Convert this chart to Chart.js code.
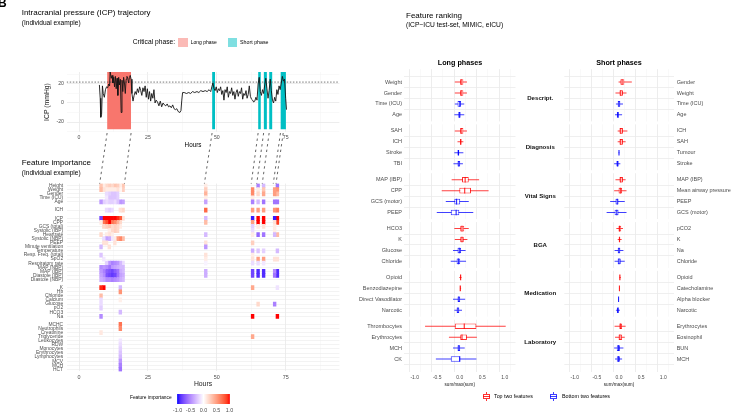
<!DOCTYPE html>
<html><head><meta charset="utf-8">
<script src="https://cdn.jsdelivr.net/npm/chart.js@4.4.1/dist/chart.umd.min.js"></script>
<style>
html,body{margin:0;padding:0;background:#fff;}
body{width:737px;height:419px;position:relative;overflow:hidden;font-family:"Liberation Sans",Arial,Helvetica,sans-serif;}
canvas{position:absolute;}
.t{position:absolute;white-space:nowrap;line-height:1;color:#000;}
.sw{position:absolute;}
</style></head><body>
<canvas id="cA" width="345" height="92" style="left:0;top:60px"></canvas>
<canvas id="cB" width="345" height="215" style="left:0;top:175px"></canvas>
<canvas id="cC" width="100" height="31" style="left:150px;top:388px"></canvas>
<canvas id="cD" width="225" height="355" style="left:340px;top:40px"></canvas>
<canvas id="cE" width="182" height="355" style="left:555px;top:40px"></canvas>
<canvas id="cO" width="737" height="419" style="left:0;top:0;pointer-events:none"></canvas>
<script>
// ---------------- DATA ----------------
const icpHours  = [7.4,7.7,7.9,8.2,8.5,8.8,9.2,9.6,10.0,10.4,10.8,11.1,11.3,11.7,12.0,12.3,12.6,12.9,13.2,13.5,13.8,14.1,14.4,14.7,15.0,15.3,15.6,15.9,16.2,16.5,16.8,17.1,17.4,17.7,18.0,18.3,18.6,18.9,19.2,19.6,20.0,20.4,20.8,21.2,21.6,22.0,22.4,22.8,23.2,23.6,24.0,24.4,24.8,25.2,25.6,26.0,26.4,26.8,27.2,27.6,28.0,28.5,29.0,29.5,30.0,30.5,31.0,31.5,32.0,32.5,33.0,33.5,34.0,34.5,35.0,35.5,36.0,36.6,37.0,37.3,37.6,38.2,39.0,39.8,40.5,41.2,42.0,42.8,43.5,44.2,45.0,45.8,46.5,47.2,47.8,48.2,48.6,49.0,49.4,49.8,50.2,50.6,51.0,51.4,51.8,52.2,52.6,53.0,53.4,53.8,54.2,54.6,55.0,55.4,55.8,56.2,56.6,57.0,57.4,57.8,58.2,58.6,59.0,59.4,59.8,60.2,60.6,61.0,61.4,61.8,62.2,62.6,63.0,63.4,63.8,64.2,64.6,65.0,65.4,65.8,66.2,66.6,67.0,67.4,67.8,68.2,68.6,69.0,69.4,69.8,70.2,70.6,71.0,71.4,71.8,72.2,72.6,73.0,73.4,73.8,74.2,74.6,75.0,75.3];
const icpValues = [19,5,-15,-12,18,10,6,14,17,16,20,18,33,26,29,21,27,17,28,15,26,8,27,19,25,-10,24,12,27,21,10,25,28,26,21,27,29,25,10,2,8,12,9,15,11,17,13,8,16,12,18,6,15,4,12,2,10,5,14,0,3,1,-3,2,-4,0,-2,-3,-1,-4,-3,-5,-2,-6,-7,-6,-9,-10,-8,3,11,11,10,11,10,12,11,12,11,13,12,13,12,14,12,17,21,15,13,17,11,15,13,17,9,13,3,14,11,17,6,12,10,16,8,12,4,11,14,7,12,10,16,4,10,8,13,5,9,18,7,4,3,1,2,6,3,20,27,12,8,14,10,19,26,15,5,13,25,13,3,0,6,2,14,9,18,14,21,28,23,25,5,-7];
const icpThreshold = 22;
const phaseStart = [10.2, 48.3, 65.0, 67.0, 69.0, 73.1];
const phaseEnd   = [18.9, 49.4, 66.0, 68.2, 70.2, 75.1];
const phaseKind  = ['long','short','short','short','short','short'];
const phaseColFrom = [8, 46, 63, 65, 67, 71];
const phaseColTo   = [16, 46, 63, 65, 67, 72];

const heatDescript  = ['Height','Weight','Gender','Time (ICU)','Age'];
const heatDiagnosis = ['ICH'];
const heatVitals    = ['ICP','CPP','GCS (total)','Systolic (IBP)','Heartrate','Systolic (NBP)','PEEP','Minute ventilation','Temperature','Resp. Freq. (total)','SpO2','Respiratory rate','MAP (NBP)','MAP (IBP)','Diastole (IBP)','Diastole (NBP)'];
const heatBGA       = ['K','Hb','Chloride','Calcium','Glucose','pO2','HCO3','Na'];
const heatLab       = ['MCHC','Neutrophils','Creatinine','Triglyceride','Leukocytes','RDW','Monocytes','Erythrocytes','Lymphocytes','MCV','MCH','HCT'];
const heatCols = [8,9,10,11,12,13,14,15,16,46,63,65,67,71,72];
const _ = null;
const imp_h08 = [0.30,0.35,_,_,-0.45, _, -0.80,0.10,_,_,0.20,_,_,-0.30,_,-0.25,_,_,-0.50,-0.45,-0.40,-0.35, 0.95,_,0.35,-0.15,-0.15,-0.20,_,-0.50, _,_,0.12,_,_,_,_,_,_,_,_,_];
const imp_h09 = [0.10,0.15,_,_,-0.20, _, 1.00,0.70,0.20,_,_,-0.15,0.15,_,_,_,-0.10,_,-0.45,-0.55,-0.50,-0.40, 1.00,_,_,_,_,_,_,_, _,_,_,_,_,_,_,_,_,_,_,_];
const imp_h10 = [0.20,0.10,-0.15,-0.10,-0.15, -0.15, 1.00,0.85,0.25,_,0.10,-0.40,0.15,_,_,_,_,-0.20,-0.50,-0.70,-0.75,-0.50, _,_,_,_,_,_,_,_, _,_,_,_,_,_,_,_,_,_,_,_];
const imp_h11 = [0.25,0.10,-0.20,-0.25,-0.20, -0.20, 1.00,1.00,0.30,0.10,0.15,-0.35,_,0.15,_,_,_,-0.45,-0.60,-0.75,-0.80,-0.50, _,_,_,_,_,_,_,_, _,_,_,_,_,_,_,_,_,_,_,_];
const imp_h12 = [0.20,0.10,-0.25,-0.25,-0.20, -0.15, 1.00,0.70,0.20,0.20,0.10,-0.10,_,_,_,_,_,-0.55,-0.45,-0.80,-0.85,-0.55, _,_,_,_,_,_,_,_, _,_,_,_,_,_,_,_,_,_,_,_];
const imp_h13 = [0.30,0.10,-0.25,-0.25,-0.15, _, 1.00,0.60,0.25,0.25,_,0.10,0.15,_,_,_,_,-0.50,-0.40,-0.70,-0.80,-0.50, _,_,_,_,_,_,_,_, _,_,_,_,_,_,_,_,_,_,_,_];
const imp_h14 = [0.25,0.15,-0.20,-0.20,-0.25, _, 0.95,0.40,0.20,0.20,_,0.50,_,_,_,_,_,-0.45,-0.35,-0.60,-0.60,-0.45, _,_,_,_,_,_,_,_, _,_,_,_,_,_,_,_,_,_,_,_];
const imp_h15 = [0.10,0.05,_,_,-0.45, 0.15, 0.80,0.20,0.10,_,_,0.60,_,_,_,_,_,-0.30,-0.30,-0.35,-0.40,-0.35, -0.30,0.55,_,0.08,_,_,-0.30,_, 0.70,0.60,_,_,-0.10,-0.15,-0.20,-0.25,-0.30,-0.45,-0.55,-0.60];
const imp_h16 = [0.30,0.25,_,_,-0.40, 0.20, 0.15,_,_,_,_,0.35,_,_,_,_,_,-0.15,-0.30,-0.30,-0.35,-0.30, _,_,_,_,_,_,_,_, _,_,_,_,_,_,_,_,_,_,_,_];
const imp_h46 = [0.10,0.25,0.40,0.10,-0.40, 0.75, -0.30,0.35,_,_,-0.30,_,0.15,-0.45,_,0.15,0.10,-0.05,_,-0.35,-0.35,_, _,_,_,_,_,_,_,_, _,_,_,_,_,_,_,_,_,_,_,_];
const imp_h63 = [_,0.60,0.60,0.10,-0.55, 0.50, -0.95,0.50,-0.20,-0.15,0.10,_,0.25,_,-0.35,0.10,0.15,-0.15,_,-0.80,-0.80,_, 0.45,_,_,_,_,_,_,1.00, _,_,_,0.45,_,_,_,_,_,_,_,_];
const imp_h65 = [-0.55,0.10,0.20,_,-0.30, 0.50, 1.00,1.00,0.10,_,-0.65,_,_,_,-0.25,_,0.50,-0.15,_,-0.90,-0.90,_, _,_,_,_,0.20,_,_,_, _,_,_,_,_,_,_,_,_,_,_,_];
const imp_h67 = [-0.30,0.30,0.45,_,-0.60, 0.50, 1.00,1.00,0.15,_,-0.60,_,_,_,-0.20,_,0.50,-0.10,_,-0.90,-0.90,_, _,_,_,_,_,_,_,_, _,_,_,_,_,_,_,_,_,_,_,_];
const imp_h71 = [_,0.50,0.50,_,-0.60, 0.55, -0.95,0.15,0.10,0.10,-0.30,_,_,_,_,_,0.15,_,_,-0.50,-0.60,_, _,_,_,_,-0.55,_,_,_, _,_,_,_,_,_,_,_,_,_,_,_];
const imp_h72 = [-0.60,0.55,0.35,_,-0.60, 0.65, 1.00,0.90,_,_,0.35,_,_,_,-0.30,_,0.15,_,_,-0.90,-0.90,_, -0.12,_,_,_,_,_,_,1.00, _,_,_,_,_,_,_,_,_,_,_,_];
const heatMatrix = [imp_h08,imp_h09,imp_h10,imp_h11,imp_h12,imp_h13,imp_h14,imp_h15,imp_h16,imp_h46,imp_h63,imp_h65,imp_h67,imp_h71,imp_h72];
const colorbarRange = [-1, 1];
const colorbarTicks = [-1, -0.5, 0, 0.5, 1];

const groupNames = ['Descript.','Diagnosis','Vital Signs','BGA','Medication','Laboratory'];
const longFeatures = ['Weight','Gender','Time (ICU)','Age','SAH','ICH','Stroke','TBI','MAP (IBP)','CPP','GCS (motor)','PEEP','HCO3','K','Glucose','Chloride','Opioid','Benzodiazepine','Direct Vasodilator','Narcotic','Thrombocytes','Erythrocytes','MCH','CK'];
const longMin = [-0.11,-0.11,-0.11,-0.12,-0.11,-0.05,-0.12,-0.14,-0.18,-0.40,-0.31,-0.51,-0.12,-0.11,-0.15,-0.20,-0.01,0.00,-0.15,-0.12,-0.77,-0.24,-0.15,-0.53];
const longQ1  = [0.00,0.00,-0.05,-0.03,0.00,0.00,-0.05,-0.05,0.05,-0.01,-0.12,-0.20,0.00,0.00,-0.05,-0.07,0.00,0.00,-0.05,-0.07,-0.11,0.00,-0.05,-0.20];
const longMed = [0.03,0.03,0.00,-0.01,0.03,0.02,-0.03,-0.02,0.12,0.11,-0.07,-0.08,0.05,0.05,-0.01,-0.03,0.02,0.01,-0.02,-0.04,0.10,0.05,-0.02,0.00];
const longQ3  = [0.08,0.08,0.03,0.02,0.08,0.04,0.00,0.01,0.20,0.25,0.01,0.00,0.10,0.09,0.03,0.01,0.03,0.03,0.01,0.00,0.37,0.16,0.01,0.01];
const longMax = [0.16,0.16,0.10,0.10,0.16,0.08,0.08,0.07,0.43,0.64,0.20,0.30,0.20,0.17,0.13,0.14,0.04,0.03,0.12,0.05,1.02,0.38,0.11,0.37];
const shortFeatures = ['Gender','Weight','Time (ICU)','Age','ICH','SAH','Tumour','Stroke','MAP (IBP)','Mean airway pressure','PEEP','GCS (motor)','pCO2','K','Na','Chloride','Opioid','Catecholamine','Alpha blocker','Narcotic','Erythrocytes','Eosinophil','BUN','MCH'];
const shortMin = [-0.01,-0.08,-0.07,-0.09,-0.03,-0.03,-0.01,-0.11,-0.08,-0.11,-0.20,-0.28,-0.06,-0.03,-0.10,-0.10,0.00,0.00,-0.02,-0.07,-0.10,-0.09,-0.11,-0.09];
const shortQ1  = [0.03,0.00,-0.03,-0.05,0.00,0.00,-0.005,-0.06,0.00,-0.01,-0.08,-0.10,-0.01,0.00,-0.03,-0.03,0.00,0.00,-0.015,-0.05,0.00,-0.01,-0.05,-0.05];
const shortMed = [0.07,0.04,0.00,-0.02,0.04,0.04,0.00,-0.03,0.04,0.03,-0.04,-0.05,0.01,0.01,0.00,0.00,0.02,0.01,-0.01,-0.02,0.03,0.02,-0.01,-0.01];
const shortQ3  = [0.12,0.09,0.03,0.00,0.09,0.09,0.005,0.00,0.09,0.07,0.00,0.00,0.05,0.03,0.03,0.04,0.03,0.015,0.00,0.00,0.07,0.07,0.02,0.02];
const shortMax = [0.29,0.17,0.09,0.07,0.19,0.15,0.01,0.03,0.15,0.17,0.13,0.17,0.09,0.06,0.10,0.13,0.04,0.02,0.00,0.02,0.15,0.13,0.10,0.07];

// ---------------- HELPERS ----------------
const FONT = '"Liberation Sans", Arial, Helvetica, sans-serif';
Chart.defaults.font.family = FONT;
const AXT = '#4D4D4D';
const GRID = '#EBEBEB', GRID_MINOR = '#F2F2F2';

function toLin(c){c/=255;return c<=0.04045?c/12.92:Math.pow((c+0.055)/1.055,2.4);}
function toS(c){c=Math.max(0,Math.min(1,c));return Math.round(255*(c<=0.0031308?12.92*c:1.055*Math.pow(c,1/2.4)-0.055));}
function rgb2lab(r,g,b){
  const R=toLin(r),G=toLin(g),B=toLin(b);
  const X=(0.4124*R+0.3576*G+0.1805*B)/0.95047, Y=(0.2126*R+0.7152*G+0.0722*B), Z=(0.0193*R+0.1192*G+0.9505*B)/1.08883;
  const f=t=>t>0.008856?Math.cbrt(t):7.787*t+16/116;
  const fx=f(X),fy=f(Y),fz=f(Z);
  return [116*fy-16,500*(fx-fy),200*(fy-fz)];
}
function lab2rgb(L,a,b){
  const fy=(L+16)/116,fx=fy+a/500,fz=fy-b/200;
  const fi=t=>{const t3=t*t*t;return t3>0.008856?t3:(t-16/116)/7.787;};
  const X=fi(fx)*0.95047,Y=fi(fy),Z=fi(fz)*1.08883;
  const R=3.2406*X-1.5372*Y-0.4986*Z,G=-0.9689*X+1.8758*Y+0.0415*Z,B=0.0557*X-0.2040*Y+1.0570*Z;
  return 'rgb('+toS(R)+','+toS(G)+','+toS(B)+')';
}
const LAB_LOW=rgb2lab(0,0,255), LAB_MID=rgb2lab(255,255,255), LAB_HIGH=rgb2lab(255,0,0);
function divColor(v){
  v=Math.max(-1,Math.min(1,v));
  const end=v<0?LAB_LOW:LAB_HIGH, t=Math.abs(v);
  return lab2rgb(LAB_MID[0]+(end[0]-LAB_MID[0])*t, LAB_MID[1]+(end[1]-LAB_MID[1])*t, LAB_MID[2]+(end[2]-LAB_MID[2])*t);
}
function addText(t,o){
  const d=document.createElement('div');d.className='t';d.textContent=t;
  d.style.fontSize=o.s+'px'; if(o.b) d.style.fontWeight='bold';
  d.style.top=(o.cy-0.54*o.s)+'px';
  if(o.cx!==undefined){d.style.left=o.cx+'px';d.style.transform='translateX(-50%)';} else d.style.left=o.x+'px';
  document.body.appendChild(d);
}
function addBox(x,y,w,h,css){const d=document.createElement('div');d.className='sw';d.style.left=x+'px';d.style.top=y+'px';d.style.width=w+'px';d.style.height=h+'px';Object.assign(d.style,css);document.body.appendChild(d);return d;}
const baseOpts = {responsive:false, animation:false, events:[], plugins:{legend:{display:false}, tooltip:{enabled:false}}};
const hourGrid = {color:c=>(c.tick && c.tick.value%25===0)?GRID:GRID_MINOR, lineWidth:c=>(c.tick && c.tick.value%25===0)?0.9:0.5, drawTicks:false};

// ---------------- A: ICP trajectory ----------------
const phaseTop = 33, phaseBottom = -27.5;
const chartA = new Chart(document.getElementById('cA'), {
  type:'line',
  data:{datasets:[
    {data: icpHours.map((h,i)=>({x:h,y:icpValues[i]})), borderColor:'#141414', borderWidth:0.9, pointRadius:0, tension:0, fill:false},
    {data:[{x:-4.5,y:icpThreshold},{x:94.5,y:icpThreshold}], borderColor:'#555', borderWidth:0.8, borderDash:[1.5,1.6], pointRadius:0, fill:false},
    ...phaseStart.map((s,i)=>({data:[{x:s,y:phaseTop},{x:phaseEnd[i],y:phaseTop}], borderColor:'rgba(0,0,0,0)', borderWidth:0, pointRadius:0,
        fill:{value:phaseBottom}, backgroundColor: phaseKind[i]==='long'?'#F8766D':'#00BFC4'}))
  ]},
  options:{...baseOpts,
    layout:{padding:{top:12,right:5.6,left:0,bottom:0}},
    scales:{
      x:{type:'linear',min:-4.5,max:94.5,border:{display:false},grid:hourGrid,
         ticks:{stepSize:12.5,includeBounds:false,callback:v=>v%25===0?v:'',font:{size:5.2},color:AXT,padding:2,maxRotation:0},
         afterFit:s=>{s.height=20;}},
      y:{type:'linear',min:-30.5,max:32.6,border:{display:false},
         grid:{color:c=>(c.tick && c.tick.value%20===0)?GRID:GRID_MINOR,lineWidth:c=>(c.tick && c.tick.value%20===0)?0.9:0.5,drawTicks:false},
         ticks:{stepSize:10,includeBounds:false,callback:v=>v%20===0?v:'',font:{size:5.2},color:AXT,padding:2.6},
         title:{display:true,text:'ICP (mmHg)',font:{size:6.8},color:'#1a1a1a',padding:{top:42.6,bottom:0}},
         afterFit:s=>{s.width=66.6;}}
    }}
});

// ---------------- B: heatmap ----------------
const heatGroups=[heatDescript,heatDiagnosis,heatVitals,heatBGA,heatLab];
const heatLabels=[];
heatGroups.forEach((g,gi)=>{ if(gi>0){heatLabels.push('');} g.forEach(n=>heatLabels.push(n)); });
function withSpacers(arr){const out=[];let k=0;heatGroups.forEach((g,gi)=>{if(gi>0)out.push(null);g.forEach(()=>{out.push(arr[k++]);});});return out;}
const chartB = new Chart(document.getElementById('cB'), {
  type:'bar',
  data:{labels:heatLabels, datasets: heatCols.map((c,k)=>{const vals=withSpacers(heatMatrix[k]);return {
    data: vals.map(v=>v===null?null:[c-0.5,c+0.5]),
    backgroundColor: vals.map(v=>v===null?'rgba(0,0,0,0)':divColor(v)),
    borderWidth:0, grouped:false, barPercentage:1, categoryPercentage:1};})},
  options:{...baseOpts, indexAxis:'y',
    layout:{padding:{top:8.6,right:5.6,left:0,bottom:0}},
    scales:{
      x:{type:'linear',min:-4.5,max:94.5,border:{display:false},grid:hourGrid,
         ticks:{stepSize:12.5,includeBounds:false,callback:v=>v%25===0?v:'',font:{size:5.4},color:AXT,padding:2.4,maxRotation:0},
         title:{display:true,text:'Hours',font:{size:6.8},color:'#1a1a1a',padding:{top:0,bottom:1.9}},
         afterFit:s=>{s.height=18.6;}},
      y:{type:'category',offset:true,border:{display:false},
         grid:{offset:false,drawTicks:false,lineWidth:0.6,color:c=>(c.tick && c.tick.label==='')?'rgba(0,0,0,0)':GRID},
         ticks:{autoSkip:false,font:{size:4.9},color:AXT,padding:3.5},
         afterFit:s=>{s.width=66.6;}}
    }}
});

// ---------------- C: colour bar ----------------
const chartC = new Chart(document.getElementById('cC'), {
  type:'bar',
  data:{labels:[''], datasets:[{data:[[colorbarRange[0],colorbarRange[1]]], borderWidth:0, barPercentage:1, categoryPercentage:1,
    backgroundColor:(ctx)=>{const ch=ctx.chart; if(!ch.chartArea) return '#fff'; const x=ch.scales.x;
      const g=ch.ctx.createLinearGradient(x.getPixelForValue(colorbarRange[0]),0,x.getPixelForValue(colorbarRange[1]),0);
      for(let i=0;i<=40;i++){const v=colorbarRange[0]+(colorbarRange[1]-colorbarRange[0])*i/40; g.addColorStop(i/40,divColor(v));}
      return g;}}]},
  options:{...baseOpts, indexAxis:'y',
    layout:{padding:{left:26.2,right:19.2,top:6,bottom:0}},
    scales:{
      x:{type:'linear',min:-1.05,max:1.05,grid:{display:false,drawTicks:false},border:{display:false},
         afterBuildTicks:s=>{s.ticks=colorbarTicks.map(v=>({value:v}));},
         ticks:{callback:v=>Number(v).toFixed(1),font:{size:5.4},color:AXT,padding:3,maxRotation:0,autoSkip:false},
         afterFit:s=>{s.height=15;}},
      y:{display:false}
    }}
});

// ---------------- D/E: box plots ----------------
const P = 4.47;
function rowPos(i){return Math.floor(i/4)*P+(i%4);}
function boxCol(i,a){return (i%4)<2?'rgba(255,0,0,'+a+')':'rgba(0,0,255,'+a+')';}
const facetGapPlugin={id:'facetGap',beforeDatasetsDraw(chart){
  const {ctx,chartArea:a,scales:{y}}=chart; ctx.save(); ctx.fillStyle='#fff';
  for(let f=0;f<5;f++){const y0=y.getPixelForValue(f*P+3.6), y1=y.getPixelForValue((f+1)*P-0.6); ctx.fillRect(a.left-1,y0,a.right-a.left+2,y1-y0);}
  ctx.restore();}};
const groupLabelPlugin={id:'groupLabels',afterDraw(chart){
  const {ctx,chartArea:a,scales:{y}}=chart; ctx.save(); ctx.fillStyle='#111'; ctx.font='bold 6.1px '+FONT; ctx.textAlign='center'; ctx.textBaseline='middle';
  const cx=(a.right+chart.width)/2;
  groupNames.forEach((g,f)=>ctx.fillText(g,cx,y.getPixelForValue(f*P+1.5)));
  ctx.restore();}};
function makeBox(id,names,mn,q1,md,q3,mx,side,padding,yWidth,plugins){
  const pos=names.map((_,i)=>rowPos(i));
  return new Chart(document.getElementById(id),{
    type:'bar',
    data:{datasets:[
      {type:'scatter',data:md.map((v,i)=>({x:v,y:pos[i]})),pointStyle:'line',pointRotation:90,pointRadius:2.8,pointHoverRadius:2.8,
        pointBorderWidth:1.1,pointBorderColor:names.map((_,i)=>boxCol(i,0.85)),pointBackgroundColor:'rgba(0,0,0,0)'},
      {type:'bar',indexAxis:'y',grouped:false,data:q1.map((v,i)=>({y:pos[i],x:[v,q3[i]]})),backgroundColor:'#fff',
        borderColor:names.map((_,i)=>boxCol(i,0.8)),borderWidth:1,borderSkipped:false,maxBarThickness:5.6},
      {type:'bar',indexAxis:'y',grouped:false,data:mn.map((v,i)=>({y:pos[i],x:[v,mx[i]]})),backgroundColor:names.map((_,i)=>boxCol(i,0.75)),
        borderWidth:0,maxBarThickness:1}
    ]},
    options:{...baseOpts,
      layout:{padding:padding},
      scales:{
        x:{type:'linear',min:-1.1,max:1.1,border:{display:false},
           grid:{color:c=>(c.tick && Math.abs(c.tick.value*2-Math.round(c.tick.value*2))<1e-6)?GRID:GRID_MINOR,lineWidth:c=>(c.tick && Math.abs(c.tick.value*2-Math.round(c.tick.value*2))<1e-6)?0.9:0.5,drawTicks:false},
           ticks:{stepSize:0.25,includeBounds:false,callback:v=>Math.abs(v*2-Math.round(v*2))<1e-6?Number(v).toFixed(1):'',font:{size:5},color:AXT,padding:2.4,maxRotation:0,autoSkip:false},
           title:{display:true,text:'sum/max(sum)',font:{size:4.6},color:'#1a1a1a',padding:{top:0,bottom:7.5}},
           afterFit:s=>{s.height=23.1;}},
        y:{type:'linear',position:side,reverse:true,min:-0.6,max:5*P+3.6,border:{display:false},
           afterBuildTicks:s=>{s.ticks=pos.map(v=>({value:v}));},
           grid:{color:GRID,lineWidth:0.8,drawTicks:false},
           ticks:{autoSkip:false,callback:(v,i)=>names[i],font:{size:5.5},color:AXT,padding:side==='left'?2:3},
           afterFit:s=>{s.width=yWidth;}}
      }},
    plugins:plugins
  });
}
const chartD = makeBox('cD',longFeatures,longMin,longQ1,longMed,longQ3,longMax,'left',{top:29.2,right:49.5,left:0,bottom:0},64,[facetGapPlugin,groupLabelPlugin]);
const chartE = makeBox('cE',shortFeatures,shortMin,shortQ1,shortMed,shortQ3,shortMax,'right',{top:29.2,right:0,left:9.3,bottom:0},63.3,[facetGapPlugin]);

// ---------------- connectors A -> B ----------------
(function(){
  const o=document.getElementById('cO').getContext('2d');
  const aLeft=0,aTop=60,bLeft=0,bTop=175;
  const yTop=aTop+chartA.chartArea.bottom+1, yBot=bTop+chartB.chartArea.top;
  o.strokeStyle='#222'; o.lineWidth=0.7; o.setLineDash([2.4,3.2]);
  const seg=(t,h)=>{o.beginPath(); o.moveTo(aLeft+chartA.scales.x.getPixelForValue(t),yTop); o.lineTo(bLeft+chartB.scales.x.getPixelForValue(h),yBot); o.stroke();};
  phaseStart.forEach((s,i)=>{
    if(phaseKind[i]==='long'){ seg(s,phaseColFrom[i]-0.5); seg(phaseEnd[i],phaseColTo[i]+0.5); }
    else { for(let c=phaseColFrom[i]; c<=phaseColTo[i]; c++){ seg(s+(c-phaseColFrom[i]), c-0.5); } }
  });
})();

// ---------------- texts & legends ----------------
addText('B',{x:-2,cy:3,s:12,b:true});
addText('Intracranial pressure (ICP) trajectory',{x:21.7,cy:13.5,s:8});
addText('(Individual example)',{x:21.7,cy:24,s:6.6});
addText('Critical phase:',{x:132.7,cy:42.5,s:6.7});
addBox(178,38.3,9.7,8.4,{background:'#FBBAB6'});
addText('Long phase',{x:190.7,cy:42.5,s:5});
addBox(227.7,38.3,9,8.4,{background:'#7FDFE1'});
addText('Short phase',{x:240,cy:42.5,s:5.3});
addText('Hours',{cx:193,cy:145,s:6.3});
addText('Feature importance',{x:21.7,cy:163.3,s:8});
addText('(Individual example)',{x:21.7,cy:173.3,s:6.6});
addText('Feature importance',{x:130,cy:398.5,s:4.8});
addText('Feature ranking',{x:406,cy:16,s:8});
addText('(ICP\u2212ICU test-set, MIMIC, eICU)',{x:406,cy:26,s:6.7});
addText('Long phases',{cx:460,cy:63,s:7.2,b:true});
addText('Short phases',{cx:619,cy:63,s:7.2,b:true});
function legendGlyph(x,col){
  addBox(x+3,392,1,2,{background:col});
  addBox(x,394,7,5,{border:'1px solid '+col,boxSizing:'border-box',background:'#fff'});
  addBox(x,396.3,7,1,{background:col});
  addBox(x+3,399,1,2,{background:col});
}
legendGlyph(482.5,'rgba(255,0,0,0.8)');
addText('Top two features',{x:494,cy:396.7,s:5.3});
legendGlyph(550,'rgba(0,0,255,0.75)');
addText('Bottom two features',{x:562,cy:396.7,s:5.4});
</script>
</body></html>
